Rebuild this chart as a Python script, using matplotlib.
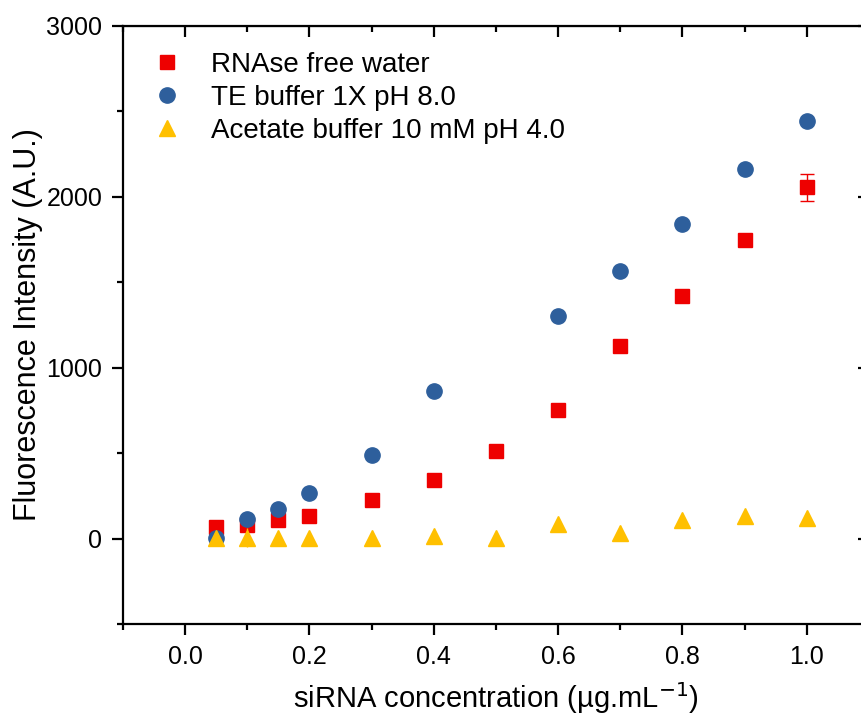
import matplotlib
matplotlib.use("Agg")
import matplotlib.pyplot as plt
from matplotlib.ticker import MultipleLocator

plt.rcParams['font.family'] = ['Liberation Sans', 'DejaVu Sans']

## DATA
conc_water = [0.05, 0.1, 0.15, 0.2, 0.3, 0.4, 0.5, 0.6, 0.7, 0.8, 0.9, 1.0]
fi_water = [65, 82, 106, 135, 223, 340, 511, 751, 1130, 1418, 1750, 2055]
err_water = [10, 10, 10, 10, 15, 10, 10, 10, 10, 10, 10, 80]

conc_te = [0.05, 0.1, 0.15, 0.2, 0.3, 0.4, 0.6, 0.7, 0.8, 0.9, 1.0]
fi_te = [5, 117, 176, 264, 487, 863, 1303, 1568, 1843, 2161, 2442]

conc_acet = [0.05, 0.1, 0.15, 0.2, 0.3, 0.4, 0.5, 0.6, 0.7, 0.8, 0.9, 1.0]
fi_acet = [5, 5, 5, 5, 5, 15, 5, 88, 30, 110, 135, 123]
err_acet = [5, 55, 5, 5, 5, 5, 5, 5, 45, 5, 5, 5]

red = '#ee0000'
blue = '#2e5f9c'
yellow = '#ffc000'

fig = plt.figure(figsize=(8.62, 7.24), dpi=100)
ax = fig.add_axes([123/862, 1-624/724, (869-123)/862, (624-26)/724])

ax.errorbar(conc_water, fi_water, yerr=err_water, fmt='none', ecolor=red,
            elinewidth=1, capsize=5, capthick=1, zorder=2)
h1, = ax.plot(conc_water, fi_water, 's', color=red, ms=9.5, label='RNAse free water', zorder=3)
h2, = ax.plot(conc_te, fi_te, 'o', color=blue, ms=11, label='TE buffer 1X pH 8.0', zorder=4)
ax.errorbar(conc_acet, fi_acet, yerr=err_acet, fmt='none', ecolor=yellow,
            elinewidth=1, capsize=0, zorder=4.5)
h3, = ax.plot(conc_acet, fi_acet, '^', color=yellow, ms=12, label='Acetate buffer 10 mM pH 4.0', zorder=5)

ax.set_xlim(-0.1, 1.1)
ax.set_ylim(-500, 3000)
ax.xaxis.set_major_locator(MultipleLocator(0.2))
ax.xaxis.set_minor_locator(MultipleLocator(0.1))
ax.yaxis.set_major_locator(MultipleLocator(1000))
ax.yaxis.set_minor_locator(MultipleLocator(500))

for s in ax.spines.values():
    s.set_linewidth(1.6)
ax.tick_params(which='major', direction='out', length=8, width=1.6, labelsize=18, pad=7)
ax.tick_params(which='minor', direction='out', length=4, width=1.6)

# top/right ticks point inward
secx = ax.secondary_xaxis('top')
secx.xaxis.set_major_locator(MultipleLocator(0.2))
secx.xaxis.set_minor_locator(MultipleLocator(0.1))
secx.tick_params(which='major', direction='in', length=8, width=1.6, labeltop=False)
secx.tick_params(which='minor', direction='in', length=4, width=1.6)
secy = ax.secondary_yaxis('right')
secy.yaxis.set_major_locator(MultipleLocator(1000))
secy.yaxis.set_minor_locator(MultipleLocator(500))
secy.tick_params(which='major', direction='in', length=8, width=1.6, labelright=False)
secy.tick_params(which='minor', direction='in', length=4, width=1.6)

ax.set_xlabel('siRNA concentration (µg.mL$^{-1}$)', fontsize=21, labelpad=8)
ax.set_ylabel('Fluorescence Intensity (A.U.)', fontsize=22, labelpad=2)

leg = ax.legend(handles=[h1, h2, h3], loc='upper left', bbox_to_anchor=(0.025, 0.975),
                frameon=False, fontsize=20, handlelength=1.0, handletextpad=1.1,
                labelspacing=0.25, borderaxespad=0)

fig.savefig('out.png', dpi=100)
